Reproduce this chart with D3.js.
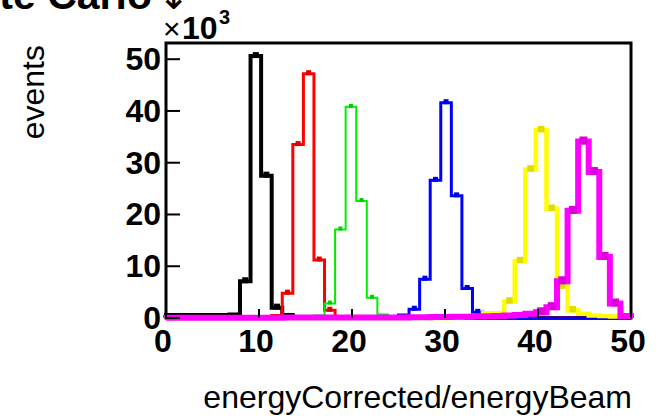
<!DOCTYPE html>
<html>
<head>
<meta charset="utf-8">
<script src="https://cdn.jsdelivr.net/npm/d3@7/dist/d3.min.js"></script>
<style>
  html, body { margin: 0; padding: 0; background: #fff; }
  svg { display: block; }
</style>
</head>
<body>
<svg id="chart" width="658" height="418"></svg>
<script>
// Histogram binning: 44 equal bins spanning 0..50
const binCount = 44;
const xRange = [0, 50];
const xTicks = [0, 10, 20, 30, 40, 50];
const yTicks = [0, 10, 20, 30, 40, 50];

// Bin contents in thousands of events, one array per beam energy
const blackCounts = [0.6,0.6,0.6,0.6,0.6,0.6,0.7,7.1,50.6,27.5,2.0,0.6,0.2,0.1,0,0,0,0,0,0,0,0,0,0,0,0,0,0,0,0,0,0,0,0,0,0,0,0,0,0,0,0,0,0];
const redCounts = [0,0,0,0,0,0,0,0,0,0.1,0.5,4.8,33.5,47.2,11.2,1.5,0.3,0.1,0,0,0,0,0,0,0,0,0,0,0,0,0,0,0,0,0,0,0,0,0,0,0,0,0,0];
const greenCounts = [0,0,0,0,0,0,0,0,0,0,0,0,0,0.1,0.5,2.8,17.1,40.8,22.6,3.9,0.7,0.2,0.1,0,0,0,0,0,0,0,0,0,0,0,0,0,0,0,0,0,0,0,0,0];
const blueCounts = [0,0,0,0,0,0,0,0,0,0,0,0,0,0,0,0,0,0,0,0,0.1,0.2,0.6,1.7,7.5,26.6,41.6,23.6,5.7,1.1,0.3,0.1,0,0,0,0,0,0,0,0,0,0,0,0];
const yellowCounts = [0,0,0,0,0,0,0,0,0,0,0,0,0,0,0,0,0,0,0,0,0,0,0,0,0,0,0,0.1,0.2,0.4,0.9,0.9,3.2,11.0,28.7,36.3,21.1,6.1,1.5,0.8,0.5,0.4,0.3,0.3];
const magentaCounts = [0.05,0.05,0.05,0.05,0.05,0.05,0.05,0.05,0.05,0.05,0.05,0.08,0.08,0.08,0.08,0.08,0.08,0.08,0.08,0.1,0.1,0.12,0.12,0.14,0.15,0.17,0.2,0.22,0.25,0.3,0.35,0.4,0.5,0.6,0.8,1.1,2.1,7.1,20.7,34.1,28.2,11.8,2.8,0.4];

const series = [
  { counts: blackCounts,   color: "#000000", width: 4 },
  { counts: redCounts,     color: "#ff0000", width: 3 },
  { counts: greenCounts,   color: "#00ee00", width: 2 },
  { counts: blueCounts,    color: "#0000ff", width: 3 },
  { counts: yellowCounts,  color: "#ffff00", width: 4.5 },
  { counts: magentaCounts, color: "#ff00ff", width: 6 }
];

const frame = { left: 166, right: 631, top: 43, bottom: 318 };
const svg = d3.select("#chart");

const maxCount = d3.max(series, s => d3.max(s.counts));
const x = d3.scaleLinear().domain(xRange).range([frame.left, frame.right]);
const y = d3.scaleLinear().domain([0, maxCount * 1.05]).range([frame.bottom, frame.top]);
const binWidth = (xRange[1] - xRange[0]) / binCount;

// Frame box
svg.append("rect")
  .attr("x", frame.left).attr("y", frame.top)
  .attr("width", frame.right - frame.left).attr("height", frame.bottom - frame.top)
  .attr("fill", "none").attr("stroke", "#000").attr("stroke-width", 3);

// Step outlines
const line = d3.line().x(d => d[0]).y(d => d[1]);
series.forEach(s => {
  const pts = [[x(xRange[0]), y(0)]];
  s.counts.forEach((v, k) => {
    pts.push([x(k * binWidth), y(v)]);
    pts.push([x((k + 1) * binWidth), y(v)]);
  });
  pts.push([x(xRange[1]), y(0)]);
  svg.append("path")
    .attr("d", line(pts))
    .attr("fill", "none")
    .attr("stroke", s.color)
    .attr("stroke-width", s.width)
    .attr("stroke-linejoin", "miter");

  // small error markers at bin centres
  s.counts.forEach((v, k) => {
    if (v < 1) return;
    const cx = x((k + 0.5) * binWidth);
    const m = s.width + 2;
    svg.append("rect")
      .attr("x", cx - m / 2)
      .attr("y", y(v) - m / 2 - 1)
      .attr("width", m).attr("height", m)
      .attr("fill", d3.color(s.color).darker(0.4));
  });
});

// Tick marks drawn inward from the frame
const tickG = svg.append("g").attr("stroke", "#000").attr("stroke-width", 2);
yTicks.forEach(t => {
  tickG.append("line")
    .attr("x1", frame.left).attr("x2", frame.left + 14)
    .attr("y1", y(t)).attr("y2", y(t));
});
xTicks.forEach(t => {
  tickG.append("line")
    .attr("x1", x(t)).attr("x2", x(t))
    .attr("y1", frame.bottom).attr("y2", frame.bottom - 9);
});

const font = "'Liberation Sans', Arial, Helvetica, sans-serif";

// Y tick labels
svg.append("g").selectAll("text").data(yTicks).join("text")
  .attr("x", frame.left - 5)
  .attr("y", d => y(d) + 11)
  .attr("text-anchor", "end")
  .attr("font-family", font).attr("font-weight", "bold").attr("font-size", 32)
  .text(d => d);

// X tick labels
svg.append("g").selectAll("text").data(xTicks).join("text")
  .attr("x", d => x(d) - 3)
  .attr("y", 352)
  .attr("text-anchor", "middle")
  .attr("font-family", font).attr("font-weight", "bold").attr("font-size", 32)
  .text(d => d);

// Exponent label
svg.append("text").attr("x", 163).attr("y", 39)
  .attr("font-family", font).attr("font-size", 30).text("\u00d7");
svg.append("text").attr("x", 182).attr("y", 39)
  .attr("font-family", font).attr("font-weight", "bold").attr("font-size", 32).text("10");
svg.append("text").attr("x", 219).attr("y", 24)
  .attr("font-family", font).attr("font-weight", "bold").attr("font-size", 20).text("3");

// Axis titles
svg.append("text")
  .attr("x", 632).attr("y", 408)
  .attr("text-anchor", "end")
  .attr("font-family", font).attr("font-size", 32)
  .text("energyCorrected/energyBeam");

svg.append("text")
  .attr("transform", "translate(44,45) rotate(-90)")
  .attr("text-anchor", "end")
  .attr("font-family", font).attr("font-size", 32)
  .text("events");

// Title
svg.append("text")
  .attr("x", 152).attr("y", 9)
  .attr("text-anchor", "end")
  .attr("font-family", font).attr("font-weight", "bold").attr("font-size", 41)
  .text("Monte Carlo");
svg.append("text")
  .attr("x", 158).attr("y", 9)
  .attr("font-family", "'DejaVu Sans', sans-serif").attr("font-size", 38)
  .text("\u2193");
</script>
</body>
</html>
